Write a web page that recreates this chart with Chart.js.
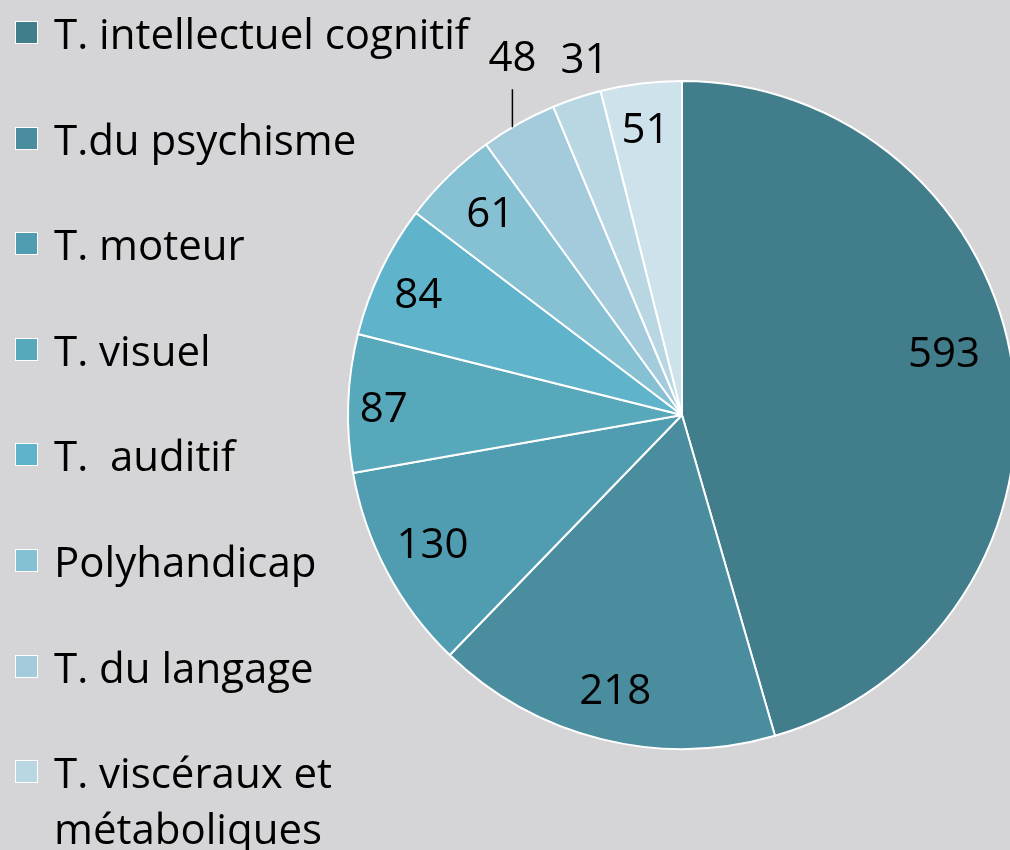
<!DOCTYPE html>
<html>
<head>
<meta charset="utf-8">
<script src="https://cdn.jsdelivr.net/npm/chart.js@4.4.1/dist/chart.umd.min.js"></script>
<style>
  html, body { margin:0; padding:0; width:1010px; height:850px; overflow:hidden; background:#d5d5d7; }
  #wrap { position:absolute; left:0; top:0; width:1030px; height:850px; }
  #legend { position:absolute; left:0; top:0; width:500px; height:850px; font-family:"Open Sans", sans-serif; font-size:42px; color:#000; }
  .item { position:absolute; left:15px; display:flex; align-items:flex-start; }
  .box { width:21px; height:21px; border:1.5px solid #fff; flex:none; }
  .txt { margin-left:16px; line-height:56px; width:430px; }
</style>
</head>
<body>
<div id="wrap"><canvas id="c" width="1030" height="850"></canvas></div>
<div id="legend"></div>
<script>
const categories = ["T. intellectuel cognitif", "T.du psychisme", "T. moteur", "T. visuel", "T.  auditif", "Polyhandicap", "T. du langage", "T. viscéraux et métaboliques", "Autres"];
const values = [593, 218, 130, 87, 84, 61, 48, 31, 51];
const colors = ["#427d8b", "#4a8d9e", "#509cb0", "#58a8bc", "#5fb3cb", "#86c0d3", "#a3cbdb", "#b8d7e2", "#cde2ea"];
const legendCount = 8;

// label placement (radial fraction of radius, angle offset in degrees) – styling only
const labelPlace = [[0.805,-4.8],[0.854,-0.4],[0.844,0.2],[0.893,-1],[0.866,-1.4],[0.83,0.6],[1.18,3.8],[1.10,3],[0.857,-0.3]];
const leaderIdx = 6;

// HTML legend
const leg = document.getElementById('legend');
for (let i = 0; i < legendCount; i++) {
  const d = document.createElement('div');
  d.className = 'item';
  d.style.top = (33 + i * 105.6 - 28) + 'px';
  const b = document.createElement('div'); b.className = 'box'; b.style.background = colors[i];
  b.style.marginTop = (28 - 12) + 'px';
  const t = document.createElement('div'); t.className = 'txt'; t.textContent = categories[i];
  t.style.whiteSpace = 'pre-wrap';
  d.appendChild(b); d.appendChild(t); leg.appendChild(d);
}

const labelPlugin = {
  id: 'sliceLabels',
  afterDatasetsDraw(chart) {
    const ctx = chart.ctx;
    const meta = chart.getDatasetMeta(0);
    ctx.save();
    ctx.font = '42px "Open Sans", sans-serif';
    ctx.fillStyle = '#000';
    ctx.textAlign = 'center';
    ctx.textBaseline = 'middle';
    meta.data.forEach((arc, i) => {
      const p = arc.getProps(['x','y','startAngle','endAngle','outerRadius'], true);
      const mid = (p.startAngle + p.endAngle) / 2 + labelPlace[i][1] * Math.PI / 180;
      const r = p.outerRadius * labelPlace[i][0];
      const x = p.x + Math.cos(mid) * r;
      const y = p.y + Math.sin(mid) * r;
      ctx.fillText(String(values[i]), x, y);
      if (i === leaderIdx) {
        const dx = x - p.x;
        const ey = p.y - Math.sqrt(Math.max(0, p.outerRadius * p.outerRadius - dx * dx));
        ctx.strokeStyle = '#000'; ctx.lineWidth = 1.5;
        ctx.beginPath(); ctx.moveTo(x, y + 30); ctx.lineTo(x, ey); ctx.stroke();
      }
    });
    ctx.restore();
  }
};

new Chart(document.getElementById('c'), {
  type: 'pie',
  data: { labels: categories, datasets: [{ data: values, backgroundColor: colors, borderColor: '#ffffff', borderWidth: 2 }] },
  options: {
    responsive: false,
    animation: false,
    layout: { padding: { left: 347, top: 80, bottom: 100, right: 13 } },
    plugins: { legend: { display: false }, tooltip: { enabled: false } }
  },
  plugins: [labelPlugin]
});
</script>
</body>
</html>
